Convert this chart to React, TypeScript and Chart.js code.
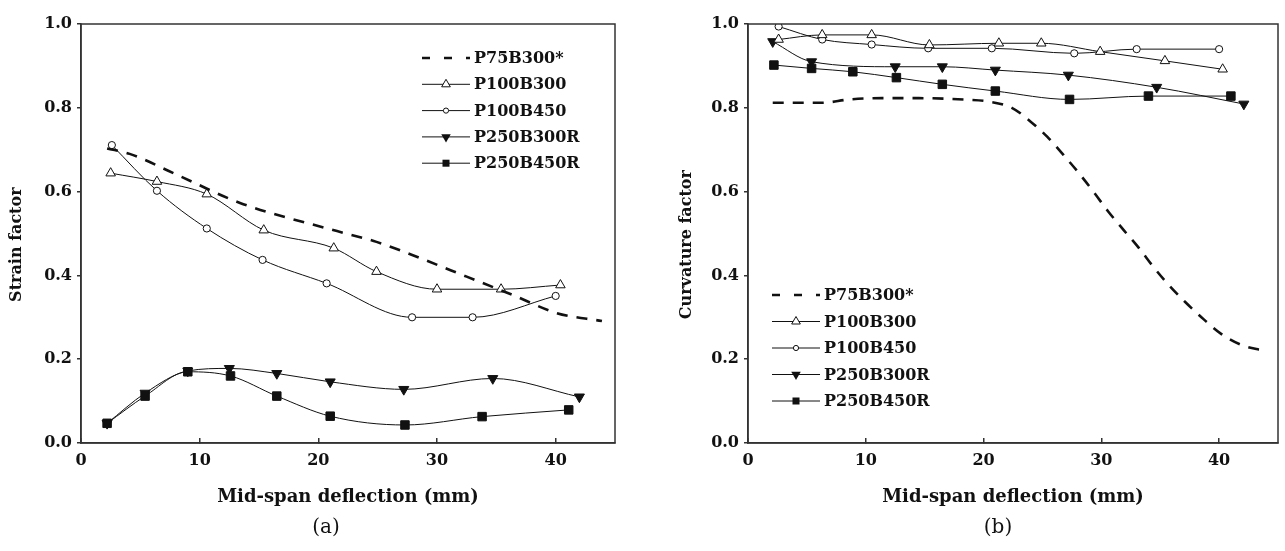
import React, { useEffect, useRef } from 'react';
import { Chart, registerables } from 'chart.js';

Chart.register(...registerables);

// ---------- data ----------
const seriesNames = ['P75B300*', 'P100B300', 'P100B450', 'P250B300R', 'P250B450R'];
const xTickValues = [0, 10, 20, 30, 40];
const yTickValues = [0, 0.2, 0.4, 0.6, 0.8, 1.0];

// (a) Strain factor
const strainP75B300X = [2.2, 4.1, 8.1, 13.4, 21.0, 24.9, 28.6, 32.5, 36.4, 40.1, 43.9];
const strainP75B300Y = [0.703, 0.69, 0.64, 0.573, 0.51, 0.48, 0.441, 0.397, 0.353, 0.31, 0.291];
const strainP100B300X = [2.5, 6.4, 10.6, 15.4, 21.3, 24.9, 30.0, 35.4, 40.4];
const strainP100B300Y = [0.644, 0.624, 0.594, 0.508, 0.465, 0.409, 0.367, 0.367, 0.377];
const strainP100B450X = [2.6, 6.4, 10.6, 15.3, 20.7, 27.9, 33.0, 40.0];
const strainP100B450Y = [0.711, 0.602, 0.512, 0.437, 0.381, 0.3, 0.3, 0.351];
const strainP250B300RX = [2.2, 5.4, 9.0, 12.5, 16.5, 21.0, 27.2, 34.7, 42.0];
const strainP250B300RY = [0.047, 0.119, 0.172, 0.178, 0.166, 0.146, 0.128, 0.154, 0.11];
const strainP250B450RX = [2.2, 5.4, 9.0, 12.6, 16.5, 21.0, 27.3, 33.8, 41.1];
const strainP250B450RY = [0.047, 0.112, 0.17, 0.16, 0.112, 0.064, 0.043, 0.063, 0.079];

// (b) Curvature factor
const curvP75B300X = [2.1, 6.3, 8.6, 11.4, 14.5, 18.7, 20.4, 22.4, 24.0, 25.4, 26.8, 28.1, 29.4, 30.6, 31.9, 33.2, 34.4, 35.6, 37.1, 38.7, 40.2, 41.9, 43.8];
const curvP75B300Y = [0.812, 0.812, 0.82, 0.823, 0.823, 0.819, 0.815, 0.8, 0.767, 0.731, 0.687, 0.644, 0.597, 0.552, 0.508, 0.465, 0.421, 0.381, 0.337, 0.295, 0.26, 0.234, 0.22];
const curvP100B300X = [2.6, 6.3, 10.5, 15.4, 21.3, 24.9, 29.9, 35.4, 40.3];
const curvP100B300Y = [0.963, 0.974, 0.974, 0.95, 0.954, 0.954, 0.934, 0.912, 0.892];
const curvP100B450X = [2.6, 6.3, 10.5, 15.3, 20.7, 27.7, 33.0, 40.0];
const curvP100B450Y = [0.994, 0.963, 0.951, 0.942, 0.942, 0.93, 0.94, 0.94];
const curvP250B300RX = [2.1, 5.4, 12.5, 16.5, 21.0, 27.2, 34.7, 42.1];
const curvP250B300RY = [0.958, 0.91, 0.898, 0.898, 0.89, 0.878, 0.849, 0.809];
const curvP250B450RX = [2.2, 5.4, 8.9, 12.6, 16.5, 21.0, 27.3, 34.0, 41.0];
const curvP250B450RY = [0.902, 0.894, 0.886, 0.872, 0.856, 0.84, 0.82, 0.828, 0.828];

// ---------- helpers ----------
type Pt = { x: number; y: number };
const zip = (xs: number[], ys: number[]): Pt[] => xs.map((x, i) => ({ x, y: ys[i] }));

const FONT = "'DejaVu Serif', 'Liberation Serif', serif";
const INK = '#111111';
const AXIS = '#333333';

function buildDatasets(series: Pt[][]) {
  return series.map((data, i) => {
    const base: any = {
      label: seriesNames[i],
      data,
      borderColor: INK,
      borderWidth: 1,
      cubicInterpolationMode: 'monotone',
      pointBorderColor: INK,
      pointBorderWidth: 1,
      fill: false,
    };
    switch (i) {
      case 0:
        return { ...base, borderWidth: 2.6, borderDash: [11, 9], pointRadius: 0 };
      case 1:
        return { ...base, pointStyle: 'triangle', pointRadius: 5.5, pointBackgroundColor: '#ffffff' };
      case 2:
        return { ...base, pointStyle: 'circle', pointRadius: 3.6, pointBackgroundColor: '#ffffff' };
      case 3:
        return { ...base, pointStyle: 'triangle', pointRotation: 180, pointRadius: 5.8, pointBackgroundColor: INK };
      default:
        return { ...base, pointStyle: 'rect', pointRadius: 6, pointBackgroundColor: INK };
    }
  });
}

function drawLegendMarker(ctx: CanvasRenderingContext2D, i: number, x: number, y: number) {
  ctx.save();
  ctx.lineWidth = 1;
  ctx.strokeStyle = INK;
  ctx.beginPath();
  if (i === 1) {
    const r = 5;
    ctx.moveTo(x, y - r);
    ctx.lineTo(x + r * 0.866, y + r * 0.5);
    ctx.lineTo(x - r * 0.866, y + r * 0.5);
    ctx.closePath();
    ctx.fillStyle = '#ffffff';
    ctx.fill();
    ctx.stroke();
  } else if (i === 2) {
    ctx.arc(x, y, 2.6, 0, Math.PI * 2);
    ctx.fillStyle = '#ffffff';
    ctx.fill();
    ctx.stroke();
  } else if (i === 3) {
    const r = 5.5;
    ctx.moveTo(x, y + r);
    ctx.lineTo(x + r * 0.866, y - r * 0.5);
    ctx.lineTo(x - r * 0.866, y - r * 0.5);
    ctx.closePath();
    ctx.fillStyle = INK;
    ctx.fill();
  } else if (i === 4) {
    ctx.fillStyle = INK;
    ctx.fillRect(x - 3.5, y - 3.5, 7, 7);
  }
  ctx.restore();
}

const decorPlugin = {
  id: 'decor',
  afterDraw(chart: any, _args: any, opts: any) {
    const { ctx, chartArea: a } = chart;
    ctx.save();
    // frame
    ctx.strokeStyle = AXIS;
    ctx.lineWidth = 1.5;
    ctx.strokeRect(a.left, a.top, a.right - a.left, a.bottom - a.top);
    // legend
    const lx: number = opts.legendX;
    const ly: number = opts.legendY;
    const gap: number = opts.rowGap;
    ctx.font = `bold 16px ${FONT}`;
    ctx.textBaseline = 'middle';
    ctx.textAlign = 'left';
    seriesNames.forEach((name, i) => {
      const y = ly + i * gap;
      ctx.save();
      ctx.strokeStyle = INK;
      if (i === 0) {
        ctx.lineWidth = 2.6;
        ctx.setLineDash([8, 14]);
      } else {
        ctx.lineWidth = 1;
        ctx.setLineDash([]);
      }
      ctx.beginPath();
      ctx.moveTo(lx, y);
      ctx.lineTo(lx + 48, y);
      ctx.stroke();
      ctx.restore();
      drawLegendMarker(ctx, i, lx + 24, y);
      ctx.fillStyle = INK;
      ctx.fillText(name, lx + 52, y + 1);
    });
    // caption
    ctx.font = `20px ${FONT}`;
    ctx.textAlign = 'center';
    ctx.fillStyle = INK;
    ctx.fillText(opts.caption, opts.captionX, opts.captionY);
    ctx.restore();
  },
};

interface PanelProps {
  series: Pt[][];
  yTitle: string;
  width: number;
  yAxisWidth: number;
  padRight: number;
  yTitlePad: number;
  legendX: number;
  legendY: number;
  rowGap: number;
  caption: string;
  captionX: number;
}

function Panel(props: PanelProps) {
  const ref = useRef<HTMLCanvasElement | null>(null);
  useEffect(() => {
    if (!ref.current) return;
    const chart = new Chart(ref.current, {
      type: 'line',
      data: { datasets: buildDatasets(props.series) as any },
      plugins: [decorPlugin as any],
      options: {
        responsive: false,
        animation: false,
        events: [],
        layout: { padding: { left: 0, right: props.padRight, top: 24, bottom: 0 } },
        plugins: {
          legend: { display: false },
          tooltip: { enabled: false },
          decor: {
            legendX: props.legendX,
            legendY: props.legendY,
            rowGap: props.rowGap,
            caption: props.caption,
            captionX: props.captionX,
            captionY: 528,
          },
        } as any,
        scales: {
          x: {
            type: 'linear',
            min: 0,
            max: 45,
            afterBuildTicks: (s: any) => {
              s.ticks = xTickValues.map((v) => ({ value: v }));
            },
            afterFit: (s: any) => {
              s.height = 108;
            },
            ticks: {
              color: INK,
              font: { family: FONT, weight: 'bold', size: 16 },
              padding: 13,
              maxRotation: 0,
              callback: (v: any) => String(v),
            },
            grid: { drawOnChartArea: false, drawTicks: true, tickLength: -5, color: AXIS, lineWidth: 1.5 },
            border: { display: true, color: AXIS, width: 1.5 },
            title: {
              display: true,
              text: 'Mid-span deflection (mm)',
              color: INK,
              font: { family: FONT, weight: 'bold', size: 18 },
              padding: { top: 0, bottom: 43 },
            },
          },
          y: {
            type: 'linear',
            min: 0,
            max: 1,
            afterBuildTicks: (s: any) => {
              s.ticks = yTickValues.map((v) => ({ value: v }));
            },
            afterFit: (s: any) => {
              s.width = props.yAxisWidth;
            },
            ticks: {
              color: INK,
              font: { family: FONT, weight: 'bold', size: 16 },
              padding: 5,
              callback: (v: any) => Number(v).toFixed(1),
            },
            grid: { drawOnChartArea: false, drawTicks: true, tickLength: 4, color: AXIS, lineWidth: 1.5 },
            border: { display: true, color: AXIS, width: 1.5 },
            title: {
              display: true,
              text: props.yTitle + '\u00a0\u00a0\u00a0\u00a0',
              color: INK,
              font: { family: FONT, weight: 'bold', size: 16 },
              padding: { top: props.yTitlePad, bottom: 0 },
            },
          },
        },
      } as any,
    });
    return () => chart.destroy();
  }, []);
  return <canvas ref={ref} width={props.width} height={551} style={{ display: 'block', width: props.width, height: 551 }} />;
}

const strainSeries: Pt[][] = [
  zip(strainP75B300X, strainP75B300Y),
  zip(strainP100B300X, strainP100B300Y),
  zip(strainP100B450X, strainP100B450Y),
  zip(strainP250B300RX, strainP250B300RY),
  zip(strainP250B450RX, strainP250B450RY),
];

const curvatureSeries: Pt[][] = [
  zip(curvP75B300X, curvP75B300Y),
  zip(curvP100B300X, curvP100B300Y),
  zip(curvP100B450X, curvP100B450Y),
  zip(curvP250B300RX, curvP250B300RY),
  zip(curvP250B450RX, curvP250B450RY),
];

export default function App() {
  return (
    <div style={{ position: 'absolute', left: 0, top: 0, width: 1285, height: 551, background: '#ffffff', overflow: 'hidden' }}>
      <div style={{ position: 'absolute', left: 0, top: 0 }}>
        <Panel
          series={strainSeries}
          yTitle="Strain factor"
          width={640}
          yAxisWidth={81}
          padRight={25}
          yTitlePad={7}
          legendX={422}
          legendY={58}
          rowGap={26.3}
          caption="(a)"
          captionX={326}
        />
      </div>
      <div style={{ position: 'absolute', left: 640, top: 0 }}>
        <Panel
          series={curvatureSeries}
          yTitle="Curvature factor"
          width={645}
          yAxisWidth={108}
          padRight={3}
          yTitlePad={37}
          legendX={132}
          legendY={295}
          rowGap={26.5}
          caption="(b)"
          captionX={358}
        />
      </div>
    </div>
  );
}
